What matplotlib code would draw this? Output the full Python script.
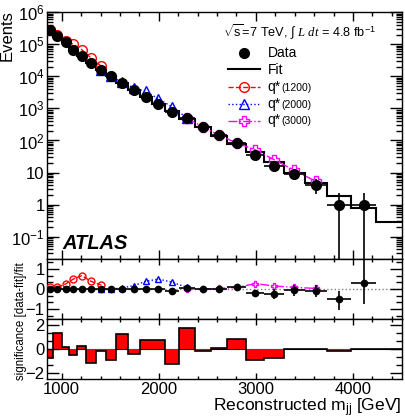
import numpy as np
import matplotlib
matplotlib.use("Agg")
import matplotlib.pyplot as plt
from matplotlib.ticker import FixedLocator, FuncFormatter, NullFormatter

plt.rcParams['font.family'] = ['Liberation Sans', 'DejaVu Sans']
plt.rcParams['mathtext.fontset'] = 'custom'
plt.rcParams['mathtext.rm'] = 'Liberation Sans'
plt.rcParams['mathtext.it'] = 'Liberation Serif:italic'
plt.rcParams['mathtext.bf'] = 'Liberation Sans:bold'

# bin edges in GeV
edges = np.array([845, 911, 1000, 1079, 1162, 1251, 1355, 1458, 1562, 1679, 1803, 1925,
                  2068, 2213, 2371, 2534, 2706, 2903, 3085, 3291, 3501, 3733, 3981, 4238, 4502])

# events per bin (data, 23 bins with entries)
data = np.array([2.8e5, 1.8e5, 1.15e5, 6.8e4, 4.4e4, 2.7e4, 1.6e4, 1.0e4, 6.2e3, 3.8e3, 2.2e3,
                 1.37e3, 750, 490, 260, 145, 83, 34.5, 15.6, 9.2, 4.2, 1, 1])
# fit (24 bins)
fit = np.array([2.8e5, 1.8e5, 1.15e5, 6.8e4, 4.4e4, 2.7e4, 1.6e4, 1.0e4, 6.2e3, 3.8e3, 2.2e3,
                1.37e3, 830, 460, 265, 142, 76, 43, 21, 9.9, 4.8, 1.9, 0.79, 0.28])

# (data-fit)/fit and its errors
ratio = [0, 0, 0, 0, 0, 0, 0, 0, 0, 0, 0, 0, -0.1, 0.07, -0.02, 0.02, 0.1, -0.2, -0.25,
         -0.07, -0.12, -0.5, 0.3]
ratio_lo = [0] * 12 + [0.04, 0.05, 0.06, 0.07, 0.1, 0.15, 0.25, 0.27, 0.3, 0.55, 1.05]
ratio_hi = [0] * 12 + [0.04, 0.05, 0.06, 0.07, 0.1, 0.15, 0.25, 0.27, 0.3, 0.4, 1.4]

# significance per bin
signif = [-0.73, 1.32, 0.2, -0.46, 0.29, -1.15, -0.2, -0.9, 1.25, -0.43, 0.79, 0.79,
          -1.29, 1.71, -0.18, 0.1, 0.87, -0.93, -0.73, 0, 0, -0.13, 0, 0]

# excited quark signals (fit + signal), first bin index and values
q1200_start = 0
q1200_main = [2.9e5, 2.0e5, 1.3e5, 1.0e5, 6.8e4, 3.7e4, 2.1e4]
q1200_ratio = [0.08, 0.1, 0.25, 0.5, 0.67, 0.38, 0.2]
q2000_start = 6
q2000_main = [1.6e4, 1.0e4, 6.5e3, 4.4e3, 3.4e3, 2.0e3, 1.1e3, 5.0e2]
q2000_ratio = [0.0, 0.0, 0.05, 0.17, 0.38, 0.5, 0.33, 0.08]
q3000_start = 13
q3000_main = [4.9e2, 2.65e2, 1.45e2, 83, 51, 25, 11.7, 5.3]
q3000_ratio = [0.0, 0.0, 0.03, 0.08, 0.27, 0.15, 0.08, 0.03]

centers = 0.5 * (edges[:-1] + edges[1:])
halfw = 0.5 * np.diff(edges)
nd = len(data)
xd = centers[:nd]

W, H = 406, 419
fig = plt.figure(figsize=(W / 100, H / 100), dpi=100)
L, R = 46.7, 401.7
def axbox(top, bot):
    return [L / W, 1 - bot / H, (R - L) / W, (bot - top) / H]

ax1 = fig.add_axes(axbox(12.3, 259))
ax2 = fig.add_axes(axbox(259, 319))
ax3 = fig.add_axes(axbox(319, 379))

xlim = (845, 4502)
for ax in (ax1, ax2, ax3):
    ax.set_xlim(*xlim)
    ax.xaxis.set_major_locator(FixedLocator([1000, 2000, 3000, 4000]))
    ax.xaxis.set_minor_locator(FixedLocator(np.arange(1000, 4600, 200)))
    ax.tick_params(which='both', direction='in', top=True, right=True, labelsize=12, width=1)
    ax.tick_params(axis='y', which='both', pad=1.5)
    ax.tick_params(axis='x', which='both', pad=2.2)
    ax.tick_params(axis='y', which='major', length=8.5)
    ax.tick_params(axis='y', which='minor', length=4.3)
    ax.tick_params(axis='x', which='major', length=6.5 if ax is ax1 else 4.5)
    ax.tick_params(axis='x', which='minor', length=3.2 if ax is ax1 else 2.4)
    for s in ax.spines.values():
        s.set_linewidth(1)
ax1.tick_params(labelbottom=False)
ax2.tick_params(labelbottom=False)

# main panel
ax1.set_yscale('log')
ax1.set_ylim(0.02, 1e6)
decades = [0.1, 1, 10, 1e2, 1e3, 1e4, 1e5, 1e6]
ax1.yaxis.set_major_locator(FixedLocator(decades))
ax1.yaxis.set_minor_locator(FixedLocator([0.03, 0.04, 0.05, 0.06, 0.07, 0.08, 0.09] +
                                         [d * k for d in decades[:-1] for k in range(2, 10)]))
ax1.yaxis.set_minor_formatter(NullFormatter())
def logfmt(v, pos):
    e = int(round(np.log10(v)))
    if e == 0:
        return '1'
    if e == 1:
        return '10'
    return r'$\mathdefault{10^{%d}}$' % e
ax1.yaxis.set_major_formatter(FuncFormatter(logfmt))

ax1.stairs(fit, edges, color='black', lw=1.5, baseline=None)
yerr_lo = np.sqrt(data)
yerr_hi = np.sqrt(data)
yerr_lo[data <= 1] = 0.999
yerr_hi[data <= 1] = 1.3
ax1.errorbar(xd, data, xerr=halfw[:nd], yerr=[yerr_lo, yerr_hi], fmt='o', color='black',
             ms=7, lw=1.2, capsize=0, zorder=5)

sig_styles = [
    (q1200_start, q1200_main, q1200_ratio, 'red', '--', 'o'),
    (q2000_start, q2000_main, q2000_ratio, 'blue', ':', '^'),
    (q3000_start, q3000_main, q3000_ratio, 'magenta', '-.', 'P'),
]
for st, vm, vr, c, ls, mk in sig_styles:
    xs = centers[st:st + len(vm)]
    ax1.plot(xs, vm, color=c, ls=ls, lw=1, marker=mk, mfc='none', mec=c, ms=7, zorder=4)
    ax2.plot(xs, vr, color=c, ls=ls, lw=1, marker=mk, mfc='none', mec=c, ms=5, zorder=4)

# legend drawn by hand
def axpt(x, y):
    return ((x - L) / (R - L), (259 - y) / (259 - 12.3))

ax1.text(*axpt(222.7, 37.5), r'$\sqrt{\mathrm{s}}$=7 TeV, $\int$ $L\,\,dt$ = 4.8 fb$^{-1}$',
         transform=ax1.transAxes, fontsize=9.2, ha='left', va='baseline')
rows = [
    (52.7, 'Data', None, 'black', 'None', 'o', 'black'),
    (69.3, 'Fit', None, 'black', '-', None, None),
    (87.3, 'q*', '(1200)', 'red', '--', 'o', 'none'),
    (104.0, 'q*', '(2000)', 'blue', ':', '^', 'none'),
    (120.7, 'q*', '(3000)', 'magenta', '-.', 'P', 'none'),
]
for y, lab, sub, c, ls, mk, fc in rows:
    (x0, yy), (x1, _) = axpt(228, y), axpt(260, y)
    if ls != 'None':
        ax1.plot([x0, x1], [yy, yy], transform=ax1.transAxes, color=c, ls=ls,
                 lw=1.5 if lab == 'Fit' else 1, clip_on=False)
    if mk:
        ax1.plot([0.5 * (x0 + x1)], [yy], transform=ax1.transAxes, marker=mk, color=c,
                 mfc=fc, mec=c, ms=7, clip_on=False)
    if sub is None:
        ax1.text(*axpt(267.7, y + 4.5), lab, transform=ax1.transAxes, fontsize=10,
                 ha='left', va='baseline')
    else:
        ax1.text(*axpt(267.7, y + 3.7), lab, transform=ax1.transAxes, fontsize=10,
                 ha='left', va='baseline')
        ax1.text(*axpt(281, y + 3.7), sub, transform=ax1.transAxes, fontsize=7.5,
                 ha='left', va='baseline')

ax1.text(*axpt(62, 243), 'ATLAS', transform=ax1.transAxes, fontsize=14.5,
         fontweight='bold', fontstyle='italic', ha='left', va='center')

# ratio panel
ax2.set_ylim(-1.5, 1.5)
ax2.yaxis.set_major_locator(FixedLocator([-1, 0, 1]))
ax2.yaxis.set_minor_locator(FixedLocator([-4 / 3, -2 / 3, -1 / 3, 1 / 3, 2 / 3, 4 / 3]))
ax2.axhline(0, color='gray', ls=':', lw=1, zorder=1)
ax2.errorbar(xd, ratio, xerr=halfw[:nd], yerr=[ratio_lo, ratio_hi], fmt='o', color='black',
             ms=4.5, lw=1.2, capsize=0, zorder=5)

# significance panel
ax3.set_ylim(-2.5, 2.5)
ax3.yaxis.set_major_locator(FixedLocator([-2, 0, 2]))
ax3.yaxis.set_minor_locator(FixedLocator([-4 / 3, -2 / 3, 2 / 3, 4 / 3]))
ax3.stairs(signif, edges, fill=True, color='red', lw=0)
ax3.stairs(signif, edges, color='black', lw=1.2, baseline=None)
ax3.axhline(0, color='black', lw=0.8, zorder=0)

fig.text(6.7 / W, 1 - 10 / H, 'Events', rotation=90, ha='center', va='top', fontsize=12)
fig.text(21 / W, 1 - 321 / H, 'significance [data-fit]/fit', rotation=90, ha='center',
         va='center', fontsize=8.3)
fig.text(R / W, 1 - 411.5 / H, r'Reconstructed m$_{\mathregular{jj}}$ [GeV]', ha='right',
         va='baseline', fontsize=12.6)

fig.savefig('out.png', dpi=100)
